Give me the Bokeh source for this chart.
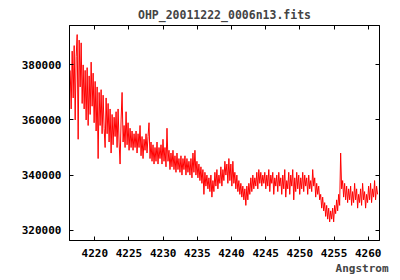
from bokeh.plotting import figure
from bokeh.models import (LinearAxis, FixedTicker, Range1d, ColumnDataSource,
                          PrintfTickFormatter, Title)
from bokeh.embed import file_html
from bokeh.resources import INLINE

title_text = "OHP_20011222_0006n13.fits"
x_label = "Angstrom"

# wavelength grid (FITS style: start + step)
wave_start = 4216.4
wave_step = 0.146

# flux in thousands of counts
flux_k = [
    378, 364, 385, 368, 387, 360, 383, 391, 353, 389, 372, 388,
    366, 380, 364, 378, 360, 379, 358, 376, 362, 381, 365, 377, 359, 374,
    356, 372, 346, 370, 358, 371, 355, 369, 357, 350, 368, 355, 366, 352,
    364, 348, 362, 351, 361, 354, 363, 350, 364, 352, 344, 360, 370, 352, 358, 350,
    363, 351, 359, 349, 357, 350, 356, 349, 355, 350, 356, 348, 355, 350,
    358, 347, 354, 346, 353, 349, 355, 348, 354, 359, 346, 352, 345,
    351, 344, 350, 345, 352, 344, 350, 346, 351, 344, 353, 345, 350, 343,
    357, 345, 349, 342, 348, 343, 349, 342, 347, 341, 348, 342, 346, 341,
    347, 340, 346, 342, 347, 340, 346, 341, 345, 340, 346, 339, 348, 341,
    349, 340, 345, 339, 344, 338, 343, 337, 342, 333, 341, 336,
    340, 335, 339, 334, 340, 332, 338, 334, 341, 336, 342, 335, 340, 337, 343, 336,
    342, 338, 345, 340, 344, 337, 346, 338, 344, 336, 345, 337, 341, 335,
    340, 334, 338, 333, 337, 332, 336, 331, 335, 329, 336, 331, 337, 333,
    339, 334, 340, 335, 339, 336, 341, 335, 342, 337, 341, 336, 340, 337, 341, 335,
    340, 336, 342, 334, 340, 337, 341, 333, 339, 336, 340, 334, 341, 336, 339, 333,
    340, 335, 342, 332, 338, 335, 341, 333, 340, 336, 342, 331, 339, 334, 341, 335,
    340, 333, 339, 335, 341, 334, 340, 336, 339, 333, 340, 335, 338, 334, 342, 336,
    339, 332, 337, 333, 336, 331, 333, 328, 332, 327, 330, 325, 329, 324, 328, 323,
    327, 324, 328, 323, 329, 326, 331, 327, 333, 329, 348, 335, 338, 332, 337,
    331, 336, 330, 335, 331, 336, 329, 334, 330, 337, 331, 335, 328, 333, 330,
    335, 329, 337, 331, 334, 328, 333, 330, 336, 331, 337, 330, 335, 332, 338, 331, 336, 333,
]

x_ticks = [4220, 4225, 4230, 4235, 4240, 4245, 4250, 4255, 4260]
y_ticks = [320000, 340000, 360000, 380000]

wave = [wave_start + i * wave_step for i in range(len(flux_k))]
flux = [v * 1000 for v in flux_k]
src = ColumnDataSource(dict(wave=wave, flux=flux))

FONT = "DejaVu Sans Mono"

p = figure(width=400, height=280, output_backend="svg", toolbar_location=None,
           x_range=Range1d(4216.3, 4261.65), y_range=Range1d(316250, 394300),
           min_border_left=69, min_border_right=21, min_border_top=25, min_border_bottom=40)
p.title.text = title_text
p.title.align = "center"
p.title.text_font = FONT
p.title.text_font_size = "11.5px"
p.title.text_font_style = "bold"
p.title.standoff = 7

p.line("wave", "flux", source=src, line_color="#ff0000", line_width=1)

p.grid.visible = False
p.outline_line_color = "black"
p.outline_line_width = 1
p.background_fill_color = "white"
p.border_fill_color = "white"

def style(ax, ticks, labels=True):
    ax.ticker = FixedTicker(ticks=ticks)
    ax.major_tick_in = 4
    ax.major_tick_out = 0
    ax.minor_tick_line_color = None
    ax.axis_line_color = "black"
    ax.major_tick_line_color = "black"
    ax.major_label_text_font = FONT
    ax.major_label_text_font_style = "bold"
    if labels:
        ax.major_label_text_color = "black"
        ax.major_label_text_font_size = "11px"
        ax.major_label_standoff = 8
    else:
        ax.major_label_text_color = None
        ax.major_label_text_font_size = "1px"
        ax.major_label_standoff = 0

style(p.xaxis[0], x_ticks)
style(p.yaxis[0], y_ticks)
p.yaxis[0].formatter = PrintfTickFormatter(format="%d")

top = LinearAxis()
style(top, x_ticks, labels=False)
p.add_layout(top, "above")
right = LinearAxis()
style(right, y_ticks, labels=False)
p.add_layout(right, "right")

xt = Title(text=x_label, align="right", offset=-9, text_font=FONT,
           text_font_size="11px", text_font_style="bold", standoff=0)
p.add_layout(xt, "below")

open("out.html", "w").write(file_html(p, INLINE))
